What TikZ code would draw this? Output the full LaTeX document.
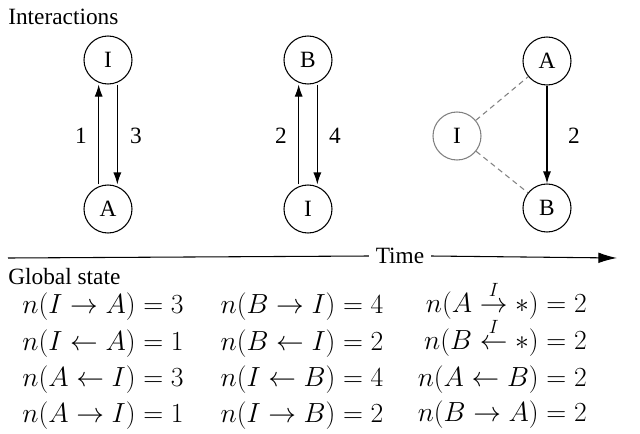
\documentclass[tikz,border=0pt]{standalone}
\usepackage{amsmath}
\usepackage{fontspec}
\setmainfont{Liberation Serif}
\usetikzlibrary{arrows.meta}
\begin{document}
\begin{tikzpicture}[x=0.75pt,y=-0.75pt,
  st/.style={circle,draw,line width=0.8pt,minimum size=36pt,inner sep=0pt,font=\fontsize{17.5}{20}\selectfont},
  gst/.style={st,draw=gray},
  arr/.style={line width=0.8pt,-{Latex[length=9pt,width=6pt]}},
  dsh/.style={gray,dashed,line width=0.8pt,dash pattern=on 4pt off 3pt},
  lbl/.style={font=\fontsize{17.5}{20}\selectfont,inner sep=0pt},
  eq/.style={font=\fontsize{19.5}{22}\selectfont,inner sep=0pt,anchor=base}]
\useasboundingbox (0,0) rectangle (640,433);
\node[lbl,anchor=west] (inter) at (8,17) {Interactions};
% left panel
\node[st] (i1) at (108,60) {I};
\node[st] (a1) at (108,209) {A};
\draw[arr] ([xshift=-7pt]a1.north) -- ([xshift=-7pt]i1.south);
\draw[arr] ([xshift=7pt]i1.south) -- ([xshift=7pt]a1.north);
\node[lbl] (l1) at (81,136) {1};
\node[lbl] (l3) at (136,136) {3};
% middle panel
\node[st] (b2) at (308,60) {B};
\node[st] (i2) at (308,209) {I};
\draw[arr] ([xshift=-7pt]i2.north) -- ([xshift=-7pt]b2.south);
\draw[arr] ([xshift=7pt]b2.south) -- ([xshift=7pt]i2.north);
\node[lbl] (l2) at (281,136) {2};
\node[lbl] (l4) at (335,136) {4};
% right panel
\node[st] (a3) at (547,61) {A};
\node[st] (b3) at (547,208) {B};
\node[gst] (i3) at (457,136) {I};
\draw[dsh] (i3) -- (a3);
\draw[dsh] (i3) -- (b3);
\draw[arr] (a3) -- (b3);
\node[lbl] (l5) at (574,136) {2};
% time axis
\coordinate (t0) at (8,258);
\coordinate (t1) at (617,258);
\node[lbl,fill=white,inner xsep=5pt] (time) at (400,256) {Time};
\draw[line width=0.8pt] (t0) -- (time.west);
\draw[line width=0.8pt,-{Latex[length=14pt,width=8pt]}] (time.east) -- (t1);
\node[lbl,anchor=west] (gs) at (8,277) {Global state};
% global state
\node[eq] (e11) at (103,313) {$n(I\rightarrow A)=3$};
\node[eq] (e12) at (103,350) {$n(I\leftarrow A)=1$};
\node[eq] (e13) at (103,386) {$n(A\leftarrow I)=3$};
\node[eq] (e14) at (103,422) {$n(A\rightarrow I)=1$};
\node[eq] (e21) at (302,313) {$n(B\rightarrow I)=4$};
\node[eq] (e22) at (302,350) {$n(B\leftarrow I)=2$};
\node[eq] (e23) at (302,386) {$n(I\leftarrow B)=4$};
\node[eq] (e24) at (302,422) {$n(I\rightarrow B)=2$};
\node[eq,anchor=base east] (e31) at (587,312) {$n(A\stackrel{I}{\rightarrow}*)=2$};
\node[eq,anchor=base east] (e32) at (587,349) {$n(B\stackrel{I}{\leftarrow}*)=2$};
\node[eq,anchor=base east] (e33) at (587,386) {$n(A\leftarrow B)=2$};
\node[eq,anchor=base east] (e34) at (587,421) {$n(B\rightarrow A)=2$};
\end{tikzpicture}
\end{document}
